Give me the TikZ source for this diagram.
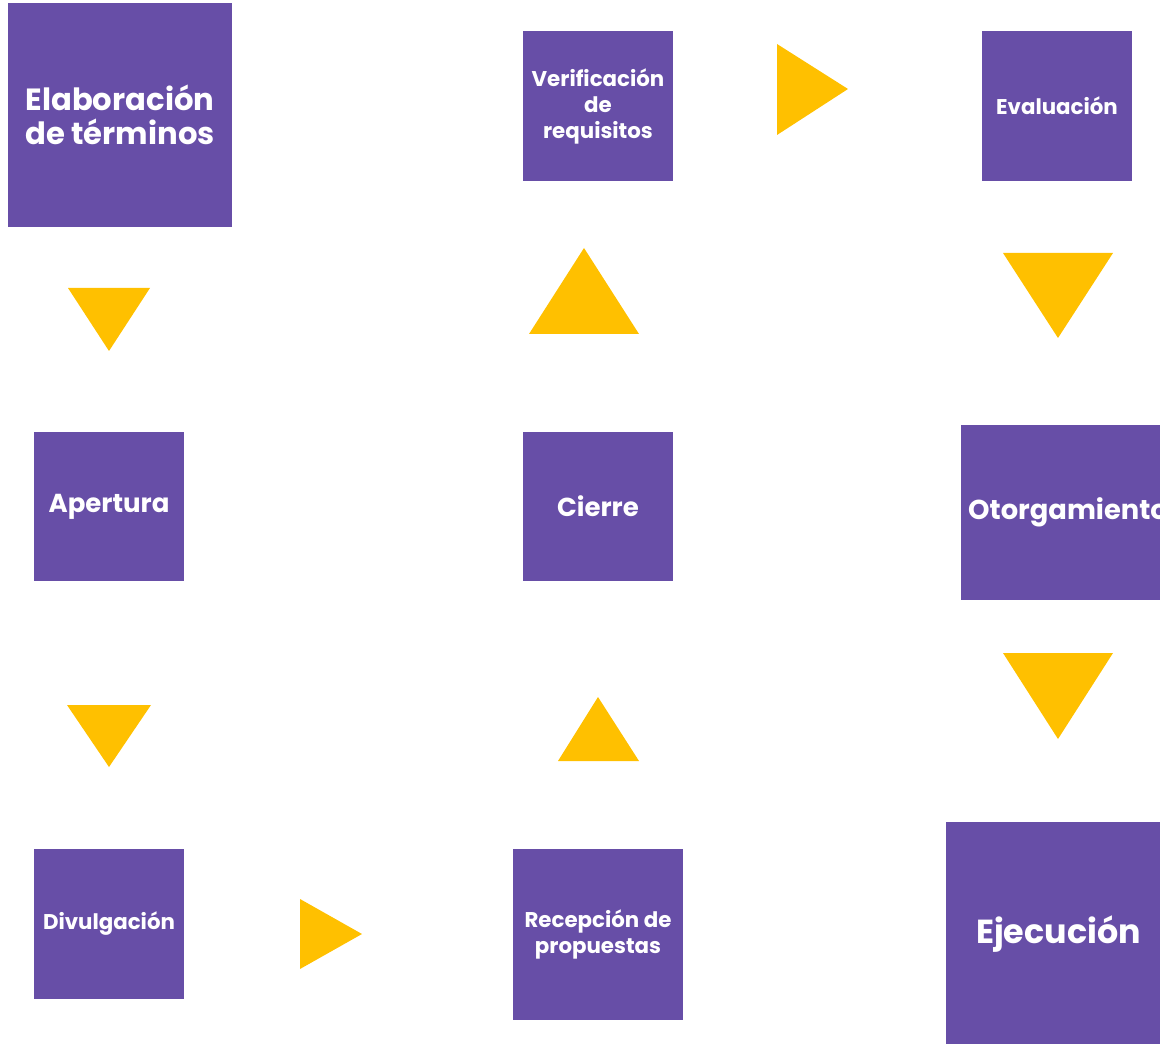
\documentclass[tikz,border=0pt]{standalone}
\usepackage{fontspec}
\setmainfont{Poppins}
\usepackage{tikz}
\definecolor{morado}{HTML}{674EA7}
\definecolor{amarillo}{HTML}{FFC000}
\tikzset{x=0.75pt, y=-0.75pt,
  caja/.style={fill=morado, text=white, align=center, inner sep=0pt},
  lado/.style 2 args={minimum width=#1*0.75pt, minimum height=#2*0.75pt},
  letra/.style 2 args={font=\bfseries\fontsize{#1}{#2}\selectfont},
  flecha/.style={fill=amarillo}}

\begin{document}
\begin{tikzpicture}

           \useasboundingbox (0,0) rectangle (1160,1044);

           \node[caja, lado={224}{224}, letra={23pt}{26pt}] (Elab) at (120,115) {Elaboración\\de términos};
           \node[caja, lado={150}{150}, letra={16pt}{19.5pt}] (Verif) at (598,106) {Verificación\\de\\requisitos};
           \node[caja, lado={150}{150}, letra={16pt}{19.5pt}] (Eval) at (1057,106) {Evaluación};
           \node[caja, lado={150}{149}, letra={19.5pt}{22pt}] (Aper) at (109,506.5) {Apertura};
           \node[caja, lado={150}{149}, letra={19.5pt}{22pt}] (Cierre) at (598,506.5) {Cierre};
           \node[caja, lado={214}{175}, letra={20.5pt}{22pt}] (Otorg) at (1068,512.5) {Otorgamiento};
           \node[caja, lado={150}{150}, letra={16pt}{19.5pt}] (Divul) at (109,924) {Divulgación};
           \node[caja, lado={170}{171}, letra={16pt}{19.5pt}] (Recep) at (598,934.5) {Recepción de\\propuestas};
           \node[caja, lado={225}{224}, letra={25pt}{28pt}] (Ejec) at (1058.5,934) {Ejecución};

           \fill[flecha] (68,288) -- (150,288) -- (109,351) -- cycle;
           \fill[flecha] (67,705) -- (151,705) -- (109,767) -- cycle;
           \fill[flecha] (300,899) -- (362,934) -- (300,969) -- cycle;
           \fill[flecha] (558,761) -- (639,761) -- (598,697) -- cycle;
           \fill[flecha] (529,334) -- (639,334) -- (584,248) -- cycle;
           \fill[flecha] (777,44) -- (848,89) -- (777,135) -- cycle;
           \fill[flecha] (1003,253) -- (1113,253) -- (1058,338) -- cycle;
           \fill[flecha] (1003,653) -- (1113,653) -- (1058,739) -- cycle;

\end{tikzpicture}
\end{document}
